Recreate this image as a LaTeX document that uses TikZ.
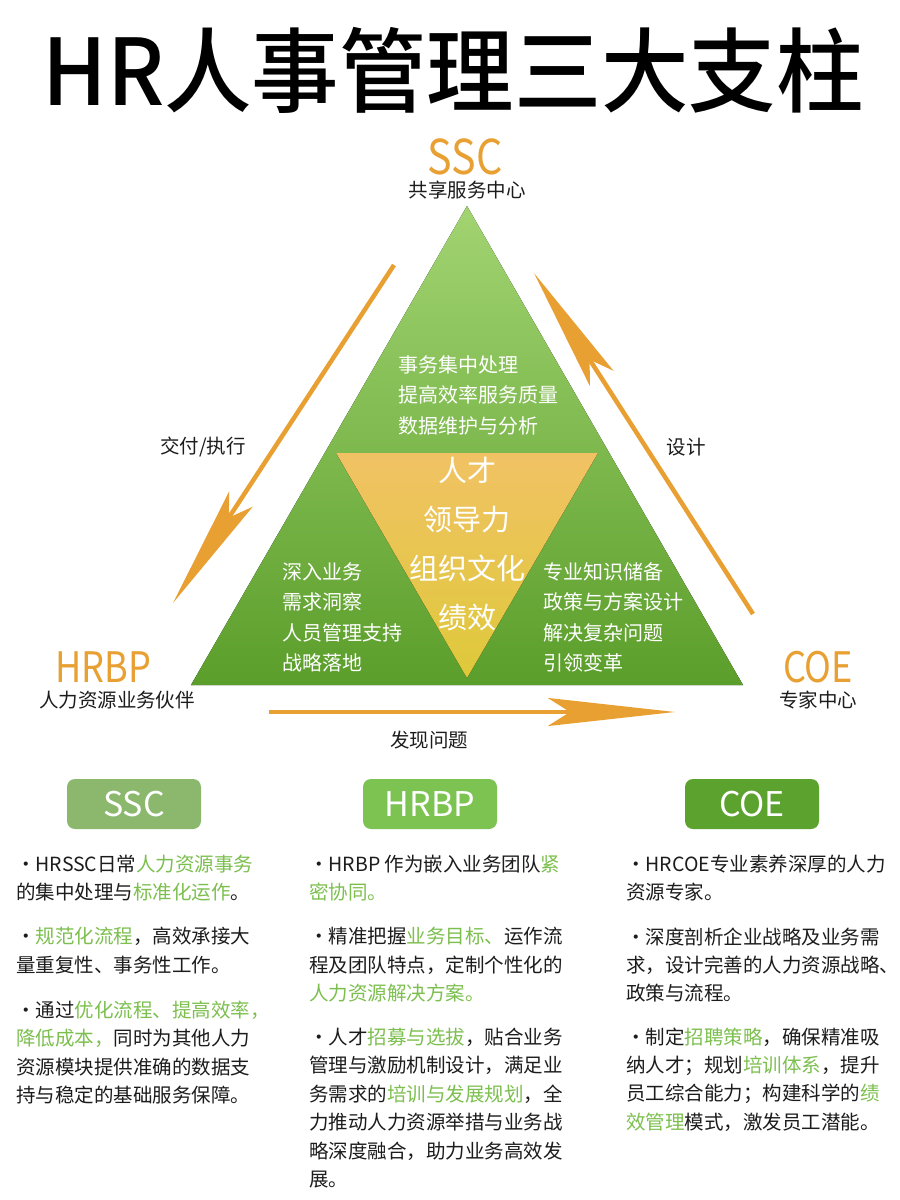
\documentclass[tikz,border=0pt]{standalone}
\usepackage{fontspec}
\usepackage{graphicx}
\setmainfont{Noto Sans CJK SC}
\newfontfamily\titlefont{Noto Sans CJK SC}[UprightFont={* Medium}]
\usetikzlibrary{arrows.meta}

\definecolor{hrorange}{HTML}{E9A033}
\definecolor{hrgreen}{HTML}{7CBF4E}
\definecolor{tritop}{HTML}{A2D472}
\definecolor{tribot}{HTML}{5B9E2B}
\definecolor{vtop}{HTML}{F1C264}
\definecolor{vbot}{HTML}{DEC93A}
\definecolor{sscfill}{HTML}{8CB86E}
\definecolor{hrbpfill}{HTML}{7DC352}
\definecolor{coefill}{HTML}{5CA22F}
\definecolor{ink}{HTML}{1C1C1C}
\newcommand{\grn}[1]{\textcolor{hrgreen}{#1}}
\newcommand{\narrow}[1]{\scalebox{0.86}[1]{#1}}

\begin{document}
\begin{tikzpicture}[x=1pt,y=-1pt,
  every node/.style={inner sep=0pt,text=ink},
  pillar/.style={text=hrorange,font=\fontsize{42}{42}\selectfont},
  cnlabel/.style={font=\fontsize{19.5}{22}\selectfont},
  flow/.style={draw=hrorange,line width=4.5pt,-{Stealth[length=#1,width=28pt,inset=22pt]}},
  inwhite/.style={text=white,align=left,anchor=west,font=\fontsize{20}{30.5}\selectfont},
  badge/.style={rounded corners=8pt,minimum width=134pt,minimum height=50pt,text=white,font=\fontsize{34}{34}\selectfont},
  para/.style={align=left,anchor=west,font=\fontsize{19.5}{28.4}\selectfont}]
\useasboundingbox (0,0) rectangle (900,1200);
\fill[white] (0,0) rectangle (900,1200);

% title
\node[font=\fontsize{92}{92}\titlefont,text=black] (title) at (453,70) {\scalebox{0.95}[1]{HR人事管理三大支柱}};

% pyramid
\coordinate (apex) at (467,206);
\coordinate (left) at (191,685);
\coordinate (right) at (743,685);
\fill[top color=tritop,bottom color=tribot] (apex) -- (left) -- (right) -- cycle;
\coordinate (vl) at (336,453);
\coordinate (vr) at (598,453);
\coordinate (vb) at (467,678);
\fill[top color=vtop,bottom color=vbot] (vl) -- (vr) -- (vb) -- cycle;

\node[inwhite] (ssc-duty) at (398,395) {事务集中处理\\提高效率服务质量\\数据维护与分析};
\node[inwhite] (hrbp-duty) at (282,617.5) {深入业务\\需求洞察\\人员管理支持\\战略落地};
\node[inwhite] (coe-duty) at (543,617.5) {专业知识储备\\政策与方案设计\\解决复杂问题\\引领变革};
\node[text=white,align=center,font=\fontsize{29}{49}\selectfont] (core) at (467,543.5) {人才\\领导力\\组织文化\\绩效};

% corner labels
\node[pillar,font=\fontsize{48}{48}\selectfont] (ssc) at (465,157) {\narrow{SSC}};
\node[cnlabel] (ssc-cn) at (467,190) {共享服务中心};
\node[pillar] (hrbp) at (103,667) {\narrow{HRBP}};
\node[cnlabel] (hrbp-cn) at (117,700) {人力资源业务伙伴};
\node[pillar] (coe) at (818,667) {\narrow{COE}};
\node[cnlabel] (coe-cn) at (818,700) {专家中心};

% flows
\coordinate (deliver-a) at (394,265);
\coordinate (deliver-b) at (173,603);
\draw[flow=124pt] (deliver-a) -- (deliver-b);
\node[cnlabel] (deliver) at (203,447) {交付/执行};
\coordinate (design-a) at (753,614);
\coordinate (design-b) at (534,273);
\draw[flow=125pt] (design-a) -- (design-b);
\node[cnlabel] (design) at (686,447) {设计};
\coordinate (find-a) at (269,712);
\coordinate (find-b) at (675,712);
\draw[flow=127pt] (find-a) -- (find-b);
\node[cnlabel] (find) at (429,740) {发现问题};

% badges
\node[badge,fill=sscfill] (ssc-badge) at (134,804) {SSC};
\node[badge,fill=hrbpfill] (hrbp-badge) at (430,804) {HRBP};
\node[badge,fill=coefill] (coe-badge) at (752,804) {COE};

% SSC column
\node[para] (ssc-p1) at (16,878) {・HRSSC日常\grn{人力资源事务}\\的集中处理与\grn{标准化运作}。};
\node[para] (ssc-p2) at (16,950.5) {・\grn{规范化流程}，高效承接大\\量重复性、事务性工作。};
\node[para] (ssc-p3) at (16,1052.5) {・通过\grn{优化流程、提高效率，}\\\grn{降低成本，}同时为其他人力\\资源模块提供准确的数据支\\持与稳定的基础服务保障。};

% HRBP column
\node[para] (hrbp-p1) at (309,878) {・HRBP 作为嵌入业务团队\grn{紧}\\\grn{密协同。}};
\node[para] (hrbp-p2) at (309,965) {・精准把握\grn{业务目标、}运作流\\程及团队特点，定制个性化的\\\grn{人力资源解决方案。}};
\node[para] (hrbp-p3) at (309,1108) {・人才\grn{招募与选拔}，贴合业务\\管理与激励机制设计，满足业\\务需求的\grn{培训与发展规划}，全\\力推动人力资源举措与业务战\\略深度融合，助力业务高效发\\展。};

% COE column
\node[para] (coe-p1) at (626,878) {・HRCOE专业素养深厚的人力\\资源专家。};
\node[para] (coe-p2) at (626,965) {・深度剖析企业战略及业务需\\求，设计完善的人力资源战略、\\政策与流程。};
\node[para] (coe-p3) at (626,1079.5) {・制定\grn{招聘策略}，确保精准吸\\纳人才；规划\grn{培训体系}，提升\\员工综合能力；构建科学的\grn{绩}\\\grn{效管理}模式，激发员工潜能。};
\end{tikzpicture}
\end{document}
